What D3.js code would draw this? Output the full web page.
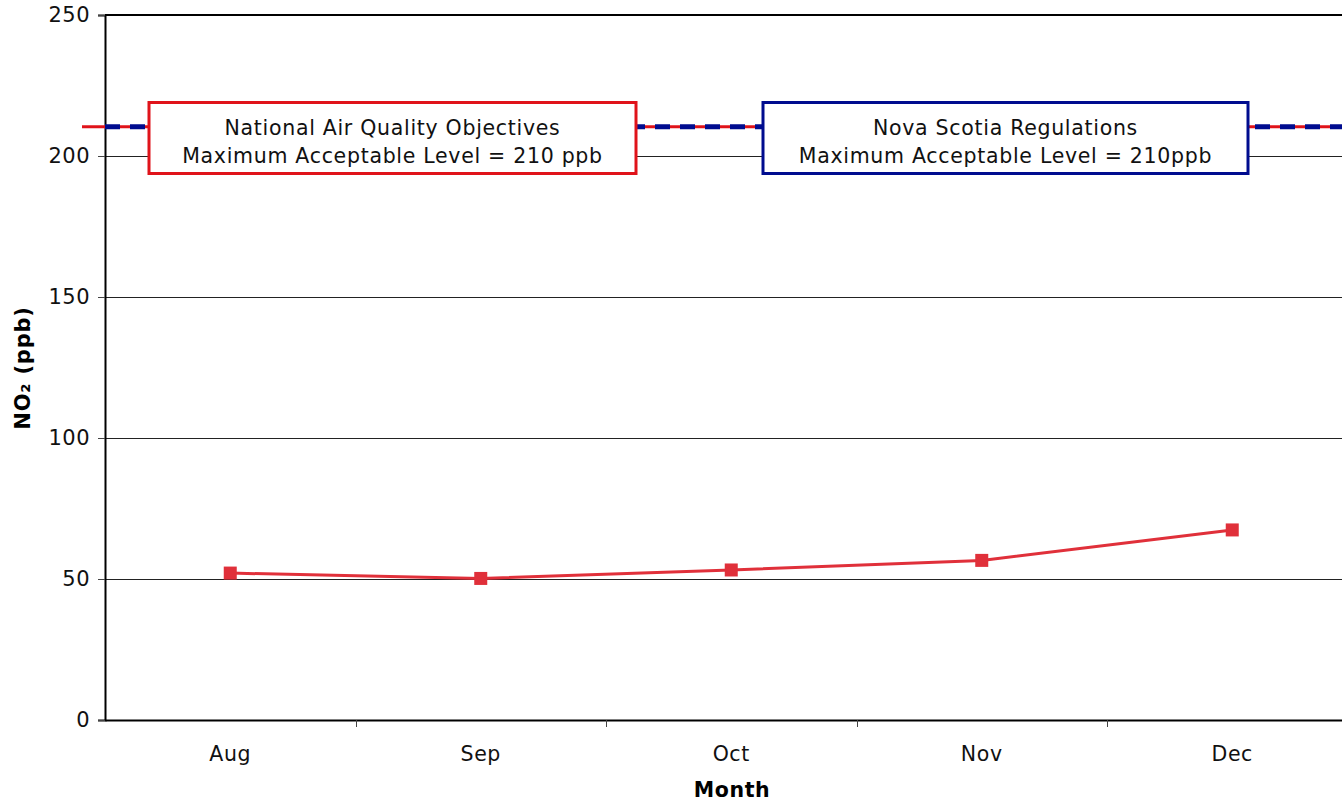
<!DOCTYPE html>
<html>
<head>
<meta charset="utf-8">
<script src="https://cdn.jsdelivr.net/npm/d3@7"></script>
<style>
  body { margin: 0; background: #fff; }
  svg text { font-family: "DejaVu Sans", Verdana, sans-serif; }
</style>
</head>
<body>
<div id="chart"></div>
<script>
// data
var months = ["Aug", "Sep", "Oct", "Nov", "Dec"];
var no2 = [52.1, 50.2, 53.2, 56.6, 67.4];
var yTicks = [0, 50, 100, 150, 200, 250];
var limitValue = 210;
var boxLabels = [
  ["National Air Quality Objectives", "Maximum Acceptable Level = 210 ppb"],
  ["Nova Scotia Regulations", "Maximum Acceptable Level = 210ppb"]
];

// dimensions
var W = 1342, H = 803;
var margin = {top: 15, left: 105, bottom: 83};
var plotH = H - margin.top - margin.bottom;
var plotW = 1252.5;

var svg = d3.select("#chart").append("svg")
    .attr("width", W)
    .attr("height", H);

var g = svg.append("g")
    .attr("transform", "translate(" + margin.left + "," + margin.top + ")");

var x = d3.scaleBand().domain(months).range([0, plotW]);
var y = d3.scaleLinear().domain([0, 250]).range([plotH, 0]);

// gridlines
g.selectAll(".grid").data(yTicks.filter(function(d) { return d > 0; }))
  .enter().append("line")
    .attr("x1", 0).attr("x2", plotW)
    .attr("y1", function(d) { return Math.round(y(d)) + 0.5; })
    .attr("y2", function(d) { return Math.round(y(d)) + 0.5; })
    .style("stroke", "#222").style("stroke-width", 1);

// y axis
var yAxis = g.append("g")
    .call(d3.axisLeft(y).tickValues(yTicks).tickSize(7).tickPadding(8));
yAxis.select(".domain").style("stroke", "#000").style("stroke-width", 2);
yAxis.selectAll(".tick line").style("stroke", "#444");
yAxis.selectAll("text").style("font-size", "21px").style("fill", "#111")
    .style("letter-spacing", "0.5px");

// x axis
var xAxis = g.append("g")
    .attr("transform", "translate(0," + plotH + ")")
    .call(d3.axisBottom(x).tickSize(0).tickPadding(26));
xAxis.select(".domain").style("stroke", "#000").style("stroke-width", 2);
xAxis.selectAll("text").style("font-size", "20.5px").style("fill", "#111")
    .style("letter-spacing", "0.6px");

// category separator ticks
g.selectAll(".xtick").data(months.slice(1))
  .enter().append("line")
    .attr("x1", function(d) { return Math.round(x(d)) + 0.5; })
    .attr("x2", function(d) { return Math.round(x(d)) + 0.5; })
    .attr("y1", plotH).attr("y2", plotH + 7)
    .style("stroke", "#444");

// limit line (red with blue dashes)
var yl = y(limitValue) - 1;
g.append("line")
    .attr("x1", -23).attr("x2", plotW)
    .attr("y1", yl).attr("y2", yl)
    .style("stroke", "#e0131a").style("stroke-width", 3);
g.append("line")
    .attr("x1", 0).attr("x2", plotW)
    .attr("y1", yl).attr("y2", yl)
    .style("stroke", "#000c8f").style("stroke-width", 5)
    .style("stroke-dasharray", "15,10");

// label boxes
var boxes = [
  {x: 44, w: 487, color: "#e0131a", lines: boxLabels[0]},
  {x: 658, w: 485, color: "#000c8f", lines: boxLabels[1]}
];
boxes.forEach(function(b) {
  var bg = g.append("g");
  bg.append("rect")
      .attr("x", b.x).attr("y", 87.5)
      .attr("width", b.w).attr("height", 71)
      .style("fill", "#fff").style("stroke", b.color).style("stroke-width", 3);
  b.lines.forEach(function(t, i) {
    bg.append("text")
        .attr("x", b.x + b.w / 2).attr("y", 120 + i * 28)
        .attr("text-anchor", "middle")
        .style("font-size", "20.5px").style("fill", "#111")
        .style("letter-spacing", "0.7px")
        .text(t);
  });
});

// top border
g.append("line")
    .attr("x1", 0).attr("x2", plotW).attr("y1", 0).attr("y2", 0)
    .style("stroke", "#000").style("stroke-width", 2);

// data line
var line = d3.line()
    .x(function(d, i) { return x(months[i]) + x.bandwidth() / 2; })
    .y(function(d) { return y(d); });

g.append("path")
    .datum(no2)
    .attr("d", line)
    .style("fill", "none").style("stroke", "#e0303a").style("stroke-width", 3);

g.selectAll(".pt").data(no2)
  .enter().append("rect")
    .attr("x", function(d, i) { return x(months[i]) + x.bandwidth() / 2 - 6.5; })
    .attr("y", function(d) { return y(d) - 6.5; })
    .attr("width", 13).attr("height", 13)
    .style("fill", "#e0303a");

// axis titles
svg.append("text")
    .attr("transform", "translate(30,368) rotate(-90)")
    .attr("text-anchor", "middle")
    .style("font-size", "21px").style("font-weight", "bold")
    .style("letter-spacing", "0.8px")
    .text("NO\u2082 (ppb)");

svg.append("text")
    .attr("x", 732).attr("y", 797)
    .attr("text-anchor", "middle")
    .style("font-size", "20.5px").style("font-weight", "bold")
    .style("letter-spacing", "0.6px")
    .text("Month");
</script>
</body>
</html>
